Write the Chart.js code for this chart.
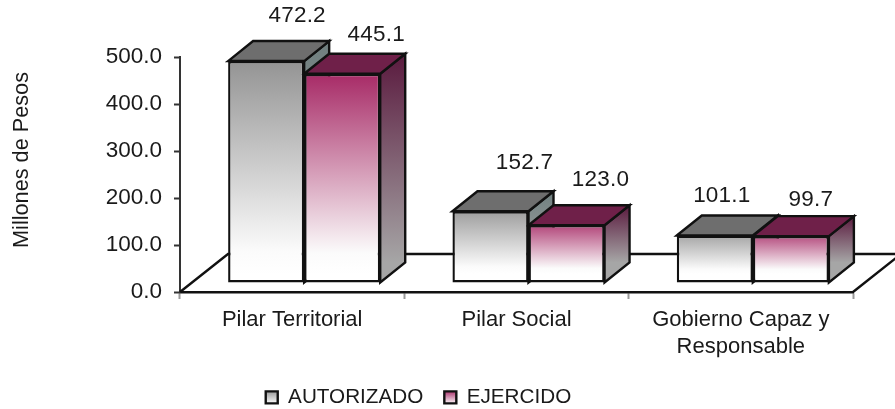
<!DOCTYPE html>
<html>
<head>
<meta charset="utf-8">
<style>html,body{margin:0;padding:0;background:#fff}canvas{display:block;filter:blur(0.45px)}</style>
<script src="https://cdn.jsdelivr.net/npm/chart.js@4"></script>
</head>
<body>
<canvas id="c" width="895" height="409"></canvas>
<script>
const categories = ["Pilar Territorial", "Pilar Social", ["Gobierno Capaz y", "Responsable"]];
const autorizado = [472.2, 152.7, 101.1];
const ejercido = [445.1, 123.0, 99.7];
const seriesNames = ["AUTORIZADO", "EJERCIDO"];
const yTicks = [0, 100, 200, 300, 400, 500];
const yTitle = "Millones de Pesos";
const labelOffsets = [
  [[31, -45], [34, -48], [7, -40]],
  [[34, -39], [34, -45], [20, -36]]
];

const FONT = "Liberation Sans, Arial, sans-serif";
const SHIFT = {x: 12, y: -9};
const DEPTH = {x: 25, y: 20};
const FACE = [
  {front: "#8f8f8f", top: "#6e6e6e", sideA: "#6f7f7f", sideB: "#a6a6a6"},
  {front: "#a3205f", top: "#6f2049", sideA: "#5a1a3e", sideB: "#a6a6a6"}
];
const LINE = "#111111";
const TEXT = "#1a1a1a";

function frontFill(i) {
  return function (ctx) {
    const chart = ctx.chart, y = chart.scales.y;
    if (!y || ctx.raw === undefined) return FACE[i].front;
    const g = chart.ctx.createLinearGradient(0, y.getPixelForValue(ctx.raw) + SHIFT.y, 0, y.getPixelForValue(0) + SHIFT.y);
    g.addColorStop(0, FACE[i].front);
    g.addColorStop(0.9, "#fbfbfb");
    g.addColorStop(1, "#ffffff");
    return g;
  };
}

function poly(c, pts, fill) {
  c.beginPath();
  pts.forEach((p, i) => i ? c.lineTo(p[0], p[1]) : c.moveTo(p[0], p[1]));
  c.closePath();
  c.fillStyle = fill;
  c.fill();
  c.lineWidth = 2.4;
  c.strokeStyle = LINE;
  c.stroke();
}

const bars3d = {
  id: "bars3d",
  beforeDatasetsDraw(chart) {
    const c = chart.ctx, a = chart.chartArea;
    const dx = 48, dy = 38;
    c.save();
    c.strokeStyle = LINE;
    c.lineWidth = 2.4;
    c.beginPath();
    c.moveTo(a.left, a.bottom); c.lineTo(a.left + dx, a.bottom - dy); c.lineTo(a.right + dx, a.bottom - dy);
    c.lineTo(a.right, a.bottom);
    c.stroke();
    c.translate(SHIFT.x, SHIFT.y);
    [0, 1].forEach(i => {
      const f = FACE[i];
      chart.getDatasetMeta(i).data.forEach(b => {
        const l = b.x - b.width / 2, r = b.x + b.width / 2, t = b.y, base = b.base;
        const g = c.createLinearGradient(0, t - DEPTH.y, 0, base - DEPTH.y);
        g.addColorStop(0, f.sideA);
        g.addColorStop(1, f.sideB);
        poly(c, [[r, t], [r + DEPTH.x, t - DEPTH.y], [r + DEPTH.x, base - DEPTH.y], [r, base]], g);
        poly(c, [[l, t], [l + DEPTH.x, t - DEPTH.y], [r + DEPTH.x, t - DEPTH.y], [r, t]], f.top);
      });
    });
    c.restore();
  },
  beforeDatasetDraw(chart) {
    chart.ctx.save();
    chart.ctx.translate(SHIFT.x, SHIFT.y);
  },
  afterDatasetDraw(chart) { chart.ctx.restore(); },
  afterDatasetsDraw(chart) {
    const c = chart.ctx;
    c.save();
    c.font = "22.5px " + FONT;
    c.letterSpacing = "0.2px";
    c.fillStyle = TEXT;
    c.textAlign = "center";
    c.textBaseline = "middle";
    chart.data.datasets.forEach((ds, i) => {
      chart.getDatasetMeta(i).data.forEach((b, j) => {
        const o = labelOffsets[i][j];
        c.fillText(ds.data[j].toFixed(1), b.x + SHIFT.x + o[0], b.y + SHIFT.y + o[1]);
      });
    });
    c.restore();
  },
  afterDraw(chart) {
    const c = chart.ctx;
    c.save();
    c.translate(22, 160);
    c.rotate(-Math.PI / 2);
    c.font = "21.7px " + FONT;
    c.fillStyle = TEXT;
    c.textAlign = "center";
    c.textBaseline = "middle";
    c.fillText(yTitle, 0, 0);
    c.restore();
  },
  afterLayout(chart) {
    const l = chart.legend;
    l.left -= 8; l.right -= 8;
    const h = l.height;
    l.top = 366; l.bottom = 366 + h;
  }
};

new Chart(document.getElementById("c"), {
  type: "bar",
  data: {
    labels: categories,
    datasets: [
      {label: seriesNames[0], data: autorizado, backgroundColor: frontFill(0), borderColor: LINE, borderWidth: 2.4, borderSkipped: false, clip: false},
      {label: seriesNames[1], data: ejercido, backgroundColor: frontFill(1), borderColor: LINE, borderWidth: 2.4, borderSkipped: false, clip: false}
    ]
  },
  plugins: [bars3d],
  options: {
    responsive: false,
    animation: false,
    devicePixelRatio: 1,
    layout: {padding: {top: 57, right: 42, left: 0, bottom: 0}},
    datasets: {bar: {barPercentage: 1, categoryPercentage: 0.678}},
    plugins: {
      tooltip: {enabled: false},
      legend: {
        position: "bottom",
        labels: {
          boxWidth: 12, boxHeight: 12, padding: 21, color: TEXT,
          font: {family: FONT, size: 20.7},
          generateLabels(chart) {
            return seriesNames.map((n, i) => {
              const g = chart.ctx.createLinearGradient(0, 390, 0, 404);
              g.addColorStop(0, FACE[i].front);
              g.addColorStop(1, "#fff");
              return {text: n, fillStyle: g, strokeStyle: LINE, lineWidth: 2.4, datasetIndex: i, fontColor: TEXT};
            });
          }
        }
      }
    },
    scales: {
      x: {
        afterFit(s) { s.height = 117 - s.chart.legend.height; },
        border: {color: LINE, width: 2.4},
        grid: {drawOnChartArea: false, color: "#999", tickLength: 7, tickWidth: 2, offset: true},
        ticks: {color: TEXT, font: {family: FONT, size: 22, lineHeight: 1.2}, padding: 8, maxRotation: 0, autoSkip: false}
      },
      y: {
        min: 0, max: 500,
        afterFit(s) { s.width = 180; },
        afterBuildTicks(s) { s.ticks = yTicks.map(v => ({value: v})); },
        border: {color: "#333", width: 2},
        grid: {drawOnChartArea: false, color: "#333", tickLength: 6, tickWidth: 2},
        ticks: {color: TEXT, font: {family: FONT, size: 22.5}, padding: 12, callback: v => Number(v).toFixed(1)}
      }
    }
  }
});
</script>
</body>
</html>
